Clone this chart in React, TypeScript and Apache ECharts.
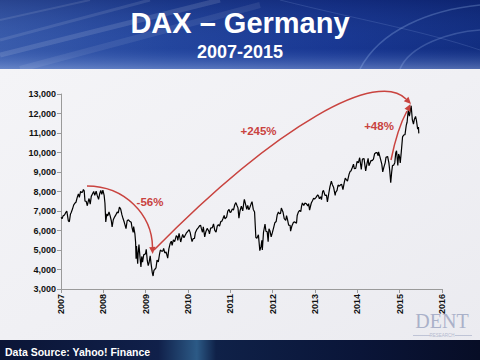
import React, { useEffect, useRef } from "react";
import * as echarts from "echarts";

const dax2007: [string, number][] = [
  ["2007-01-02", 6680], ["2007-01-10", 6600], ["2007-01-19", 6750], ["2007-01-31", 6790],
  ["2007-02-09", 6900], ["2007-02-20", 7000], ["2007-02-28", 6700],
  ["2007-03-05", 6500], ["2007-03-14", 6450], ["2007-03-23", 6830], ["2007-03-30", 6920],
  ["2007-04-10", 7100], ["2007-04-20", 7300], ["2007-04-30", 7400],
  ["2007-05-10", 7450], ["2007-05-21", 7700], ["2007-05-31", 7880],
  ["2007-06-08", 7700], ["2007-06-19", 8000], ["2007-06-29", 7950],
  ["2007-07-06", 7980], ["2007-07-13", 8100], ["2007-07-20", 8030], ["2007-07-27", 7500],
  ["2007-08-06", 7500], ["2007-08-16", 7270], ["2007-08-24", 7500], ["2007-08-31", 7640],
  ["2007-09-10", 7350], ["2007-09-19", 7750], ["2007-09-28", 7860],
  ["2007-10-10", 8000], ["2007-10-19", 7800], ["2007-10-31", 8020],
  ["2007-11-09", 7800], ["2007-11-21", 7600], ["2007-11-30", 7870],
  ["2007-12-10", 8050], ["2007-12-19", 7850], ["2007-12-28", 8067],
];
const dax2008: [string, number][] = [
  ["2008-01-08", 7800], ["2008-01-15", 7400], ["2008-01-22", 6440], ["2008-01-31", 6850],
  ["2008-02-08", 6750], ["2008-02-19", 6950], ["2008-02-29", 6750],
  ["2008-03-10", 6500], ["2008-03-17", 6180], ["2008-03-27", 6550],
  ["2008-04-08", 6700], ["2008-04-18", 6800], ["2008-04-30", 6950],
  ["2008-05-09", 6900], ["2008-05-19", 7200], ["2008-05-30", 7100],
  ["2008-06-10", 6800], ["2008-06-20", 6600], ["2008-06-30", 6420],
  ["2008-07-08", 6250], ["2008-07-15", 6100], ["2008-07-25", 6500],
  ["2008-08-05", 6550], ["2008-08-15", 6480], ["2008-08-29", 6420],
  ["2008-09-05", 6150], ["2008-09-15", 5900], ["2008-09-19", 6200], ["2008-09-30", 5830],
  ["2008-10-06", 5400], ["2008-10-10", 4550], ["2008-10-14", 5200], ["2008-10-24", 4300], ["2008-10-28", 4820],
  ["2008-11-04", 5280], ["2008-11-12", 4700], ["2008-11-21", 4130], ["2008-11-28", 4670],
  ["2008-12-05", 4380], ["2008-12-15", 4750], ["2008-12-31", 4810],
];
const dax2009: [string, number][] = [
  ["2009-01-06", 5030], ["2009-01-15", 4450], ["2009-01-23", 4200], ["2009-01-30", 4340],
  ["2009-02-09", 4700], ["2009-02-18", 4240], ["2009-02-27", 3840],
  ["2009-03-06", 3666], ["2009-03-13", 3950], ["2009-03-20", 4000], ["2009-03-31", 4080],
  ["2009-04-09", 4480], ["2009-04-20", 4390], ["2009-04-30", 4770],
  ["2009-05-08", 5000], ["2009-05-18", 4940], ["2009-05-29", 4940],
  ["2009-06-05", 5080], ["2009-06-15", 4850], ["2009-06-26", 4900],
  ["2009-07-10", 4580], ["2009-07-20", 5060], ["2009-07-31", 5330],
  ["2009-08-10", 5450], ["2009-08-17", 5240], ["2009-08-28", 5520],
  ["2009-09-08", 5430], ["2009-09-22", 5740], ["2009-09-30", 5680],
  ["2009-10-05", 5490], ["2009-10-16", 5850], ["2009-10-30", 5410],
  ["2009-11-06", 5580], ["2009-11-16", 5800], ["2009-11-27", 5630],
  ["2009-12-08", 5760], ["2009-12-17", 5860], ["2009-12-30", 5960],
];
const dax2010: [string, number][] = [
  ["2010-01-11", 6040], ["2010-01-20", 5890], ["2010-01-29", 5610],
  ["2010-02-05", 5430], ["2010-02-15", 5590], ["2010-02-26", 5600],
  ["2010-03-05", 5880], ["2010-03-17", 6040], ["2010-03-31", 6150],
  ["2010-04-12", 6250], ["2010-04-20", 6260], ["2010-04-27", 6080],
  ["2010-05-06", 5910], ["2010-05-13", 6190], ["2010-05-25", 5670],
  ["2010-06-04", 5940], ["2010-06-15", 6110], ["2010-06-30", 5960],
  ["2010-07-05", 5830], ["2010-07-15", 6120], ["2010-07-30", 6150],
  ["2010-08-09", 6340], ["2010-08-20", 6010], ["2010-08-31", 5920],
  ["2010-09-10", 6220], ["2010-09-20", 6300], ["2010-09-30", 6230],
  ["2010-10-11", 6460], ["2010-10-20", 6480], ["2010-10-29", 6600],
  ["2010-11-09", 6770], ["2010-11-16", 6600], ["2010-11-30", 6690],
  ["2010-12-10", 6990], ["2010-12-21", 7080], ["2010-12-30", 6920],
];
const dax2011: [string, number][] = [
  ["2011-01-07", 6950], ["2011-01-18", 7110], ["2011-01-28", 7050],
  ["2011-02-08", 7320], ["2011-02-18", 7430], ["2011-02-28", 7270],
  ["2011-03-08", 7160], ["2011-03-16", 6630], ["2011-03-25", 7000],
  ["2011-04-06", 7250], ["2011-04-18", 7010], ["2011-04-29", 7510],
  ["2011-05-02", 7600], ["2011-05-12", 7350], ["2011-05-23", 7080], ["2011-05-31", 7290],
  ["2011-06-10", 7060], ["2011-06-17", 7160], ["2011-06-30", 7380],
  ["2011-07-07", 7480], ["2011-07-18", 7080], ["2011-07-29", 6950],
  ["2011-08-04", 6240], ["2011-08-09", 5640], ["2011-08-18", 5600], ["2011-08-31", 5780],
  ["2011-09-09", 5190], ["2011-09-12", 4970], ["2011-09-22", 5160], ["2011-09-30", 5500],
  ["2011-10-04", 5000], ["2011-10-14", 5910], ["2011-10-27", 6330],
  ["2011-11-04", 5960], ["2011-11-15", 5930], ["2011-11-23", 5430], ["2011-11-30", 6090],
  ["2011-12-09", 5980], ["2011-12-19", 5670], ["2011-12-30", 5900],
];
const dax2012: [string, number][] = [
  ["2012-01-10", 6160], ["2012-01-20", 6400], ["2012-01-31", 6460],
  ["2012-02-09", 6790], ["2012-02-20", 6950], ["2012-02-29", 6860],
  ["2012-03-09", 6880], ["2012-03-16", 7150], ["2012-03-30", 6950],
  ["2012-04-10", 6610], ["2012-04-23", 6520], ["2012-04-30", 6760],
  ["2012-05-08", 6570], ["2012-05-18", 6270], ["2012-05-31", 6260],
  ["2012-06-04", 5970], ["2012-06-15", 6230], ["2012-06-29", 6420],
  ["2012-07-10", 6440], ["2012-07-25", 6370], ["2012-07-31", 6770],
  ["2012-08-10", 6940], ["2012-08-21", 7030], ["2012-08-31", 6970],
  ["2012-09-06", 7220], ["2012-09-14", 7410], ["2012-09-26", 7280],
  ["2012-10-05", 7400], ["2012-10-17", 7380], ["2012-10-31", 7260],
  ["2012-11-07", 7380], ["2012-11-15", 7040], ["2012-11-30", 7410],
  ["2012-12-10", 7530], ["2012-12-20", 7660], ["2012-12-28", 7610],
];
const dax2013: [string, number][] = [
  ["2013-01-10", 7700], ["2013-01-24", 7830], ["2013-01-31", 7780],
  ["2013-02-08", 7630], ["2013-02-19", 7730], ["2013-02-26", 7580],
  ["2013-03-08", 8000], ["2013-03-15", 8060], ["2013-03-28", 7800],
  ["2013-04-10", 7810], ["2013-04-18", 7460], ["2013-04-30", 7910],
  ["2013-05-10", 8250], ["2013-05-22", 8530], ["2013-05-31", 8350],
  ["2013-06-10", 8220], ["2013-06-24", 7800], ["2013-06-28", 7960],
  ["2013-07-10", 8060], ["2013-07-19", 8330], ["2013-07-31", 8280],
  ["2013-08-09", 8340], ["2013-08-19", 8370], ["2013-08-30", 8100],
  ["2013-09-10", 8450], ["2013-09-19", 8690], ["2013-09-30", 8590],
  ["2013-10-08", 8530], ["2013-10-21", 8870], ["2013-10-31", 9030],
  ["2013-11-07", 9050], ["2013-11-18", 9220], ["2013-11-29", 9400],
  ["2013-12-06", 9170], ["2013-12-18", 9180], ["2013-12-30", 9550],
];
const dax2014: [string, number][] = [
  ["2014-01-10", 9470], ["2014-01-21", 9730], ["2014-01-31", 9310],
  ["2014-02-04", 9130], ["2014-02-14", 9660], ["2014-02-28", 9690],
  ["2014-03-07", 9350], ["2014-03-14", 9060], ["2014-03-26", 9450],
  ["2014-04-04", 9700], ["2014-04-11", 9320], ["2014-04-30", 9600],
  ["2014-05-09", 9580], ["2014-05-20", 9660], ["2014-05-30", 9940],
  ["2014-06-10", 9990], ["2014-06-20", 9990], ["2014-06-30", 9830],
  ["2014-07-03", 10030], ["2014-07-15", 9780], ["2014-07-31", 9400],
  ["2014-08-08", 9010], ["2014-08-18", 9250], ["2014-08-29", 9470],
  ["2014-09-05", 9750], ["2014-09-19", 9800], ["2014-09-30", 9470],
  ["2014-10-07", 9090], ["2014-10-16", 8450], ["2014-10-24", 8990], ["2014-10-31", 9330],
  ["2014-11-10", 9350], ["2014-11-20", 9480], ["2014-11-28", 9980],
  ["2014-12-05", 10090], ["2014-12-16", 9330], ["2014-12-23", 9920], ["2014-12-30", 9800],
];
const dax2015: [string, number][] = [
  ["2015-01-06", 9470], ["2015-01-15", 10030], ["2015-01-26", 10800],
  ["2015-02-05", 10900], ["2015-02-16", 10920], ["2015-02-27", 11400],
  ["2015-03-06", 11550], ["2015-03-16", 12170], ["2015-03-26", 11860],
  ["2015-04-10", 12400], ["2015-04-20", 11690], ["2015-04-30", 11450],
  ["2015-05-08", 11710], ["2015-05-18", 11850], ["2015-05-26", 11630],
  ["2015-06-05", 11200], ["2015-06-12", 11300], ["2015-06-15", 10980],
];

const xYears = [2007, 2008, 2009, 2010, 2011, 2012, 2013, 2014, 2015, 2016];
const yTicks = [3000, 4000, 5000, 6000, 7000, 8000, 9000, 10000, 11000, 12000, 13000];

const titleText = "DAX – Germany";
const subtitleText = "2007-2015";
const sourceText = "Data Source: Yahoo! Finance";
const annotationLabels = ["-56%", "+245%", "+48%"];

function yearFrac(s: string): number {
  const y = parseInt(s.slice(0, 4), 10);
  const t = Date.parse(s + "T00:00:00Z");
  const a = Date.UTC(y, 0, 1);
  const b = Date.UTC(y + 1, 0, 1);
  return y + (t - a) / (b - a);
}

const RED = "#c9433f";

function arrowHead(tx: number, ty: number, dx: number, dy: number, len = 7, half = 3.2) {
  const m = Math.hypot(dx, dy);
  const ux = dx / m, uy = dy / m;
  const px = -uy, py = ux;
  const bx = tx - ux * len, by = ty - uy * len;
  return {
    type: "polygon",
    z: 100,
    shape: { points: [[tx, ty], [bx + px * half, by + py * half], [bx - px * half, by - py * half]] },
    style: { fill: RED },
  };
}

export default function App() {
  const ref = useRef<HTMLDivElement>(null);
  useEffect(() => {
    if (!ref.current) return;
    const chart = echarts.init(ref.current, null, { renderer: "svg" });
    const all = [...dax2007, ...dax2008, ...dax2009, ...dax2010, ...dax2011, ...dax2012, ...dax2013, ...dax2014, ...dax2015];
    const data = all.map(([d, v]) => [yearFrac(d), v]);
    const font = '"Liberation Sans", Arial, sans-serif';

    const graphic: any[] = [
      {
        type: "rect", z: -10, silent: true,
        shape: { x: 0, y: 68, width: 480, height: 274 },
        style: {
          fill: new echarts.graphic.LinearGradient(0, 0, 1, 1, [
            { offset: 0, color: "#f4f4f7" },
            { offset: 0.5, color: "#f0f0f4" },
            { offset: 1, color: "#ebebf0" },
          ]),
        },
      },
      {
        type: "rect", z: -10, silent: true,
        shape: { x: 0, y: 0, width: 480, height: 69 },
        style: {
          fill: new echarts.graphic.LinearGradient(0, 0, 1, 0, [
            { offset: 0, color: "#3a5cab" },
            { offset: 0.35, color: "#22449c" },
            { offset: 0.7, color: "#173590" },
            { offset: 1, color: "#0f2a7c" },
          ]),
        },
      },
      {
        type: "rect", z: -9, silent: true,
        shape: { x: 0, y: 0, width: 480, height: 69 },
        style: {
          fill: new echarts.graphic.LinearGradient(0, 0, 0, 1, [
            { offset: 0, color: "rgba(10,25,90,0.35)" },
            { offset: 0.7, color: "rgba(60,100,190,0.05)" },
            { offset: 1, color: "rgba(160,185,235,0.45)" },
          ]),
        },
      },
      { type: "line", z: -8, silent: true, shape: { x1: 0, y1: 55, x2: 220, y2: 0 }, style: { stroke: "rgba(255,255,255,0.12)", lineWidth: 5 } },
      { type: "line", z: -8, silent: true, shape: { x1: 0, y1: 40, x2: 150, y2: 0 }, style: { stroke: "rgba(255,255,255,0.10)", lineWidth: 3 } },
      { type: "line", z: -8, silent: true, shape: { x1: 20, y1: 69, x2: 260, y2: 5 }, style: { stroke: "rgba(255,255,255,0.08)", lineWidth: 6 } },
      { type: "line", z: -8, silent: true, shape: { x1: 0, y1: 20, x2: 90, y2: 0 }, style: { stroke: "rgba(255,255,255,0.10)", lineWidth: 2 } },
      { type: "bezierCurve", z: -8, silent: true, shape: { x1: 360, y1: 69, x2: 480, y2: 5, cpx1: 380, cpy1: 30, cpx2: 430, cpy2: 10 }, style: { stroke: "rgba(180,210,255,0.25)", lineWidth: 1.5, fill: null } },
      { type: "bezierCurve", z: -8, silent: true, shape: { x1: 400, y1: 69, x2: 480, y2: 30, cpx1: 410, cpy1: 45, cpx2: 450, cpy2: 32 }, style: { stroke: "rgba(180,210,255,0.22)", lineWidth: 1.5, fill: null } },
      { type: "bezierCurve", z: -8, silent: true, shape: { x1: 280, y1: 0, x2: 480, y2: 50, cpx1: 360, cpy1: 20, cpx2: 420, cpy2: 30 }, style: { stroke: "rgba(180,210,255,0.15)", lineWidth: 1, fill: null } },
      {
        type: "rect", z: -10, silent: true,
        shape: { x: 0, y: 340, width: 480, height: 20 },
        style: {
          fill: new echarts.graphic.LinearGradient(0, 0, 1, 0, [
            { offset: 0, color: "#0b1536" },
            { offset: 0.33, color: "#10204a" },
            { offset: 0.41, color: "#2c5a86" },
            { offset: 0.45, color: "#0f2148" },
            { offset: 0.75, color: "#0a1538" },
            { offset: 1, color: "#070d26" },
          ]),
        },
      },
      {
        type: "text", z: 50,
        style: { text: titleText, x: 240, y: 23, align: "center", verticalAlign: "middle", fill: "#ffffff", fontSize: 29, fontWeight: "bold", fontFamily: font },
      },
      {
        type: "text", z: 50,
        style: { text: subtitleText, x: 240, y: 52, align: "center", verticalAlign: "middle", fill: "#ffffff", fontSize: 18, fontWeight: "bold", fontFamily: font },
      },
      {
        type: "text", z: 50,
        style: { text: sourceText, x: 5, y: 352, align: "left", verticalAlign: "middle", fill: "#ffffff", fontSize: 10.5, fontWeight: "bold", fontFamily: font },
      },
      {
        type: "text", z: 1,
        style: { text: "DENT", x: 442, y: 321, align: "center", verticalAlign: "middle", fill: "#aab1c9", fontSize: 20, fontFamily: '"Liberation Serif", "DejaVu Serif", serif' },
      },
      {
        type: "text", z: 1,
        style: { text: "RESEARCH", x: 442, y: 335.5, align: "center", verticalAlign: "middle", fill: "#b4bacf", fontSize: 4.5, fontFamily: font },
      },
      { type: "line", z: 1, shape: { x1: 413, y1: 335.5, x2: 430, y2: 335.5 }, style: { stroke: "#b4bacf", lineWidth: 0.8 } },
      { type: "line", z: 1, shape: { x1: 455, y1: 335.5, x2: 472, y2: 335.5 }, style: { stroke: "#b4bacf", lineWidth: 0.8 } },
      {
        type: "bezierCurve", z: 100,
        shape: { x1: 87, y1: 186, cpx1: 125, cpy1: 186, cpx2: 152, cpy2: 215, x2: 152.5, y2: 247 },
        style: { stroke: RED, lineWidth: 1.5, fill: null },
      },
      arrowHead(152.7, 254, 0.05, 1),
      {
        type: "text", z: 100,
        style: { text: annotationLabels[0], x: 150, y: 202, align: "center", verticalAlign: "middle", fill: RED, fontSize: 11.5, fontWeight: "bold", fontFamily: font },
      },
      {
        type: "bezierCurve", z: 100,
        shape: { x1: 154, y1: 250, cpx1: 280, cpy1: 122, cpx2: 378, cpy2: 70, x2: 406, y2: 99 },
        style: { stroke: RED, lineWidth: 1.5, fill: null },
      },
      arrowHead(411, 104, 28, 29),
      {
        type: "text", z: 100,
        style: { text: annotationLabels[1], x: 258.5, y: 130.5, align: "center", verticalAlign: "middle", fill: RED, fontSize: 11.5, fontWeight: "bold", fontFamily: font },
      },
      {
        type: "bezierCurve", z: 100,
        shape: { x1: 391, y1: 160, cpx1: 395, cpy1: 140, cpx2: 401, cpy2: 122, x2: 407, y2: 111 },
        style: { stroke: RED, lineWidth: 1.5, fill: null },
      },
      arrowHead(410.5, 104, 6, -12),
      {
        type: "text", z: 100,
        style: { text: annotationLabels[2], x: 379, y: 126, align: "center", verticalAlign: "middle", fill: RED, fontSize: 11.5, fontWeight: "bold", fontFamily: font },
      },
    ];

    chart.setOption({
      animation: false,
      backgroundColor: "transparent",
      grid: { left: 61, right: 38, top: 94, bottom: 71 },
      xAxis: {
        type: "value",
        min: xYears[0],
        max: xYears[xYears.length - 1],
        interval: 1,
        axisLine: { show: true, lineStyle: { color: "#9a9a9a", width: 1 } },
        axisTick: { show: true, length: 4, lineStyle: { color: "#9a9a9a" } },
        splitLine: { show: false },
        axisLabel: {
          rotate: 90,
          margin: 5,
          color: "#111",
          fontSize: 9,
          fontWeight: "bold",
          fontFamily: font,
          formatter: (v: number) => String(v),
        },
      },
      yAxis: {
        type: "value",
        min: yTicks[0],
        max: yTicks[yTicks.length - 1],
        interval: 1000,
        axisLine: { show: true, lineStyle: { color: "#9a9a9a", width: 1 } },
        axisTick: { show: true, length: 4, lineStyle: { color: "#9a9a9a" } },
        splitLine: { show: false },
        axisLabel: {
          margin: 5,
          color: "#111",
          fontSize: 9,
          fontWeight: "bold",
          fontFamily: font,
          formatter: (v: number) => v.toLocaleString("en-US"),
        },
      },
      series: [
        {
          type: "line",
          data,
          symbol: "none",
          showSymbol: false,
          lineStyle: { color: "#000", width: 1.2 },
          z: 5,
        },
      ],
      graphic,
    });
    return () => chart.dispose();
  }, []);
  return <div ref={ref} style={{ width: 480, height: 360, position: "absolute", left: 0, top: 0 }} />;
}
